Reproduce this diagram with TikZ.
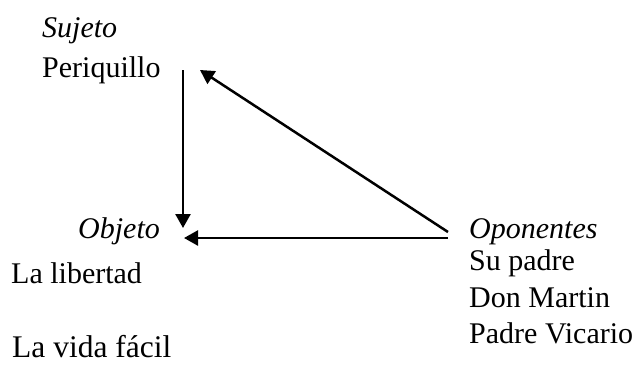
\documentclass[tikz,border=0pt]{standalone}
\usepackage{fontspec}
\setmainfont{Liberation Serif}
\usetikzlibrary{arrows.meta}
\begin{document}
\begin{tikzpicture}[x=1pt,y=-1pt,
  lbl/.style={anchor=base west,inner sep=0pt,font=\fontsize{30}{36}\selectfont},
  ilbl/.style={lbl,font=\fontsize{30}{36}\selectfont\itshape},
  conn/.style={line width=2.5pt,-{Triangle[width=15pt,length=14pt]}}]
\useasboundingbox (0,0) rectangle (633,365);
\node[ilbl] (suj) at (42,37) {Sujeto};
\node[lbl] (peri) at (42,77) {Periquillo};
\node[ilbl] (obj) at (78,238) {Objeto};
\node[lbl] (lib) at (11,283) {La libertad};
\node[lbl,font=\fontsize{31.5}{38}\selectfont] (vida) at (12,357) {La vida fácil};
\node[ilbl] (opo) at (469,238) {Oponentes};
\node[lbl] (pad) at (469,270) {Su padre};
\node[lbl] (don) at (469,307) {Don Martin};
\node[lbl] (vic) at (469,343) {Padre Vicario};
\coordinate (s1) at (183,70);
\coordinate (o1) at (183,228);
\coordinate (s2) at (200,70);
\coordinate (p1) at (448,232);
\coordinate (p2) at (448,238);
\coordinate (o2) at (184,238);
\draw[conn] (s1) -- (o1);
\draw[conn] (p1) -- (s2);
\draw[conn] (p2) -- (o2);
\end{tikzpicture}
\end{document}
